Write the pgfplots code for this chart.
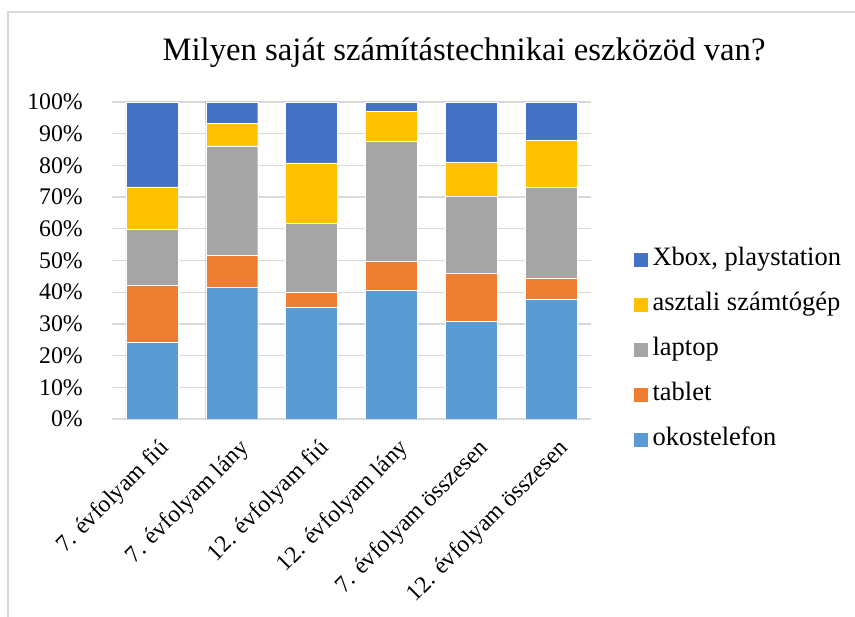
\documentclass[border=0pt]{standalone}
\usepackage{pgfplots}
\pgfplotsset{compat=1.18}
\usepackage{fontspec}
\setmainfont{Liberation Serif}
\definecolor{cPhone}{HTML}{5B9BD5}
\definecolor{cTablet}{HTML}{ED7D31}
\definecolor{cLaptop}{HTML}{A5A5A5}
\definecolor{cDesk}{HTML}{FFC000}
\definecolor{cXbox}{HTML}{4472C4}
\definecolor{gridc}{HTML}{D9D9D9}
\begin{document}
\begin{tikzpicture}
\path[use as bounding box] (0pt,0pt) rectangle (855pt,617pt);
\draw[color=gridc, line width=1.5pt] (8pt,0pt) -- (8pt,605pt) -- (856pt,605pt);
\node[font=\fontsize{32.7}{38}\selectfont, anchor=base, inner sep=0pt] at (464pt,556pt) {Milyen saját számítástechnikai eszközöd van?};
\begin{axis}[
  at={(112pt,198pt)}, anchor=south west,
  scale only axis, width=479pt, height=317pt,
  ybar stacked, bar width=52pt,
  xmin=-0.5, xmax=5.5, ymin=0, ymax=100,
  xtick={0,1,2,3,4,5},
  xticklabels={7. évfolyam fiú, 7. évfolyam lány, 12. évfolyam fiú, 12. évfolyam lány, 7. évfolyam összesen, 12. évfolyam összesen},
  ytick={0,10,20,30,40,50,60,70,80,90,100},
  yticklabels={0\%,10\%,20\%,30\%,40\%,50\%,60\%,70\%,80\%,90\%,100\%},
  ymajorgrids, grid style={color=gridc, line width=1.3pt},
  axis line style={draw=none}, major tick length=0pt,
  tick label style={font=\fontsize{23.8}{28}\selectfont},
  yticklabel style={anchor=east, inner sep=0pt, xshift=-29pt},
  xticklabel style={inner sep=0pt, xshift=6pt, yshift=-18pt, rotate=45, anchor=north east},
  legend style={at={(1.0877,0.220)}, anchor=west, draw=none, fill=none, inner sep=0pt,
    row sep=20pt, font=\fontsize{26.5}{30}\selectfont,
    nodes={inner sep=0pt, text height=19pt, text depth=6pt}},
  legend cell align=left,
  reverse legend,
  legend image code/.code={\path (0pt,0pt) -- (19pt,0pt); \fill[#1] (0pt,-7.5pt) rectangle (15pt,7.5pt);},
  every axis plot/.append style={draw=white, line width=0.4pt},
]
\addplot[fill=cPhone] coordinates {(0,24.3) (1,41.5) (2,35.3) (3,40.5) (4,30.9) (5,37.8)};
\addlegendentry{okostelefon}
\addplot[fill=cTablet] coordinates {(0,17.9) (1,10.2) (2,4.6) (3,9.3) (4,15.0) (5,6.7)};
\addlegendentry{tablet}
\addplot[fill=cLaptop] coordinates {(0,17.7) (1,34.5) (2,21.8) (3,37.7) (4,24.3) (5,28.5)};
\addlegendentry{laptop}
\addplot[fill=cDesk] coordinates {(0,13.3) (1,7.0) (2,19.1) (3,9.5) (4,10.9) (5,14.8)};
\addlegendentry{asztali számtógép}
\addplot[fill=cXbox] coordinates {(0,26.8) (1,6.8) (2,19.2) (3,3.0) (4,18.9) (5,12.2)};
\addlegendentry{Xbox, playstation}
\end{axis}
\end{tikzpicture}
\end{document}
